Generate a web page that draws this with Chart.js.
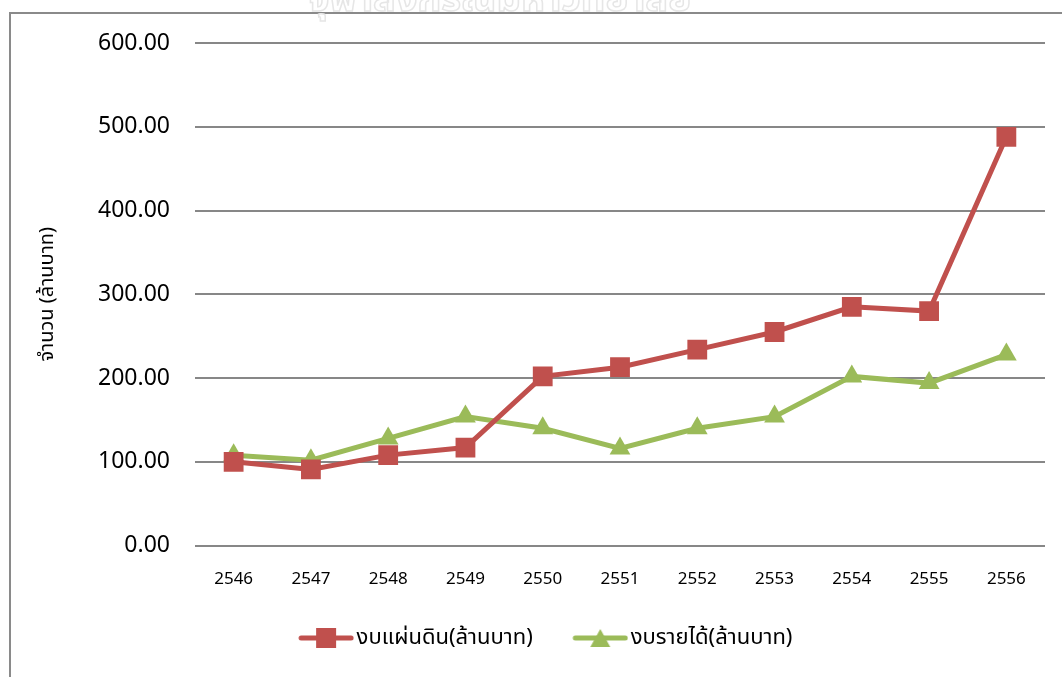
<!DOCTYPE html>
<html>
<head>
<meta charset="utf-8">
<script src="https://cdn.jsdelivr.net/npm/chart.js@4.4.0/dist/chart.umd.min.js"></script>
<style>
  html, body { margin: 0; padding: 0; background: #fff; }
  #wrap { position: relative; width: 1062px; height: 677px; }
  #frame { position: absolute; left: 9px; top: 12px; width: 1100px; height: 700px;
    border-left: 2px solid #8a8a8a; border-top: 2px solid #8a8a8a; }
  canvas { position: absolute; left: 0; top: 0; }
</style>
</head>
<body>
<div id="wrap">
  <div id="frame"></div>
  <canvas id="c" width="1062" height="677"></canvas>
</div>
<script>
// years (พ.ศ.)
let years = ["2546", "2547", "2548", "2549", "2550", "2551", "2552", "2553", "2554", "2555", "2556"];
// งบแผ่นดิน
let landBudget = [100, 91, 108, 117, 202, 213, 234, 255, 285, 280, 488];
// งบรายได้
let incomeBudget = [108, 102, 128, 154, 140, 116, 140, 154, 202, 194, 228];
let yTicks = [0, 100, 200, 300, 400, 500, 600];

const red = "#C0504D";
const green = "#9BBB59";
const thaiFont = "'Noto Sans', 'Noto Sans Thai', Tahoma, sans-serif";

// legend icon: line with marker in the middle (20px transparent margin on the left)
function legendIcon(color, shape) {
  const cv = document.createElement("canvas");
  cv.width = 76;
  cv.height = 24;
  const g = cv.getContext("2d");
  g.translate(20, 0);
  g.strokeStyle = color;
  g.lineWidth = 5;
  g.lineCap = "round";
  g.beginPath();
  g.moveTo(3, 12);
  g.lineTo(53, 12);
  g.stroke();
  g.fillStyle = color;
  if (shape === "rect") {
    g.fillRect(18, 2, 20, 20);
  } else {
    g.beginPath();
    g.moveTo(28, 3);
    g.lineTo(38, 21);
    g.lineTo(18, 21);
    g.closePath();
    g.fill();
  }
  return cv;
}

// faint watermark at top
const watermark = {
  id: "watermark",
  beforeDraw(chart) {
    const c = chart.ctx;
    c.save();
    c.font = "bold 38px " + thaiFont;
    c.textAlign = "center";
    c.textBaseline = "middle";
    c.strokeStyle = "#e6e6e6";
    c.lineWidth = 1.5;
    c.strokeText("จุฬาลงกรณ์มหาวิทยาลัย", 500, 0);
    c.restore();
  },
};

const padLeft = 34;

const ctx = document.getElementById("c");
const myChart = new Chart(ctx, {
  type: "line",
  data: {
    labels: years,
    datasets: [
      {
        label: "งบแผ่นดิน(ล้านบาท)",
        data: landBudget,
        borderColor: red,
        backgroundColor: red,
        borderWidth: 5,
        pointStyle: "rect",
        pointRadius: 14,
        pointHoverRadius: 14,
        pointBorderWidth: 0,
        tension: 0,
      },
      {
        label: "งบรายได้(ล้านบาท)",
        data: incomeBudget,
        borderColor: green,
        backgroundColor: green,
        borderWidth: 5,
        pointStyle: "triangle",
        pointRadius: 12,
        pointHoverRadius: 12,
        pointBorderWidth: 0,
        tension: 0,
      },
    ],
  },
  options: {
    responsive: false,
    animation: false,
    layout: { padding: { left: padLeft, right: 17, top: 43, bottom: 18 } },
    plugins: {
      tooltip: { enabled: false },
      legend: {
        position: "bottom",
        labels: {
          usePointStyle: true,
          pointStyleWidth: 59,
          font: { size: 22, family: thaiFont },
          color: "#000",
          padding: 28,
          generateLabels(chart) {
            return chart.data.datasets.map((ds, i) => ({
              text: ds.label,
              fillStyle: ds.borderColor,
              strokeStyle: ds.borderColor,
              pointStyle: legendIcon(ds.borderColor, i === 0 ? "rect" : "tri"),
              datasetIndex: i,
              hidden: false,
              lineWidth: 0,
            }));
          },
        },
      },
    },
    scales: {
      x: {
        offset: true,
        grid: { display: false },
        border: { display: false },
        afterFit(scale) {
          scale.height -= 5;
        },
        ticks: { color: "#000", font: { size: 17, family: thaiFont }, padding: 15 },
      },
      y: {
        min: 0,
        max: 600,
        afterBuildTicks(scale) {
          scale.ticks = yTicks.map((v) => ({ value: v }));
        },
        afterFit(scale) {
          scale.width = 195 - padLeft;
        },
        grid: { color: "#878787", lineWidth: 2, drawTicks: false },
        border: { display: false },
        ticks: {
          color: "#000",
          font: { size: 23, family: thaiFont },
          padding: 25,
          callback: (v) => v.toFixed(2),
        },
        title: {
          display: true,
          text: "จำนวน (ล้านบาท)",
          color: "#000",
          font: { size: 20, family: thaiFont },
          padding: { top: 1, bottom: 0 },
        },
      },
    },
  },
  plugins: [watermark],
});
</script>
</body>
</html>
